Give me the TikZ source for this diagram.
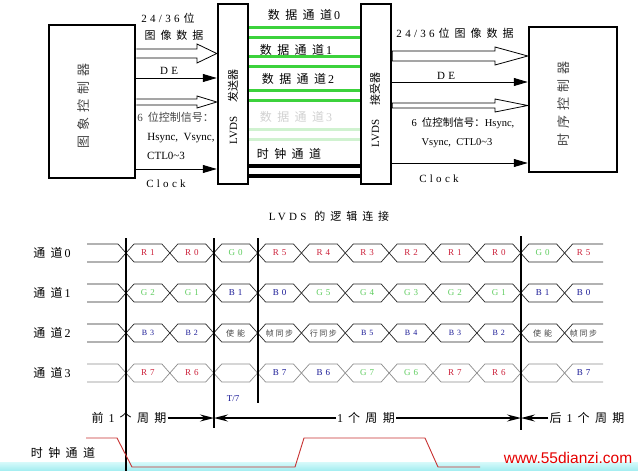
\documentclass[tikz,border=0pt]{standalone}
\usepackage{fontspec}
\setmainfont{Liberation Serif}
\newfontfamily\cjk{Noto Sans CJK SC}
\newfontfamily\cjks{Noto Sans CJK SC}[LetterSpace=45]
\newfontfamily\cjkm{Noto Sans CJK SC}[LetterSpace=40]
\newfontfamily\cjkt{Noto Sans CJK SC}[LetterSpace=20]
\newfontfamily\lss{Liberation Serif}[LetterSpace=30]
\newfontfamily\wmfont{Liberation Sans}
\usetikzlibrary{arrows.meta}
\definecolor{grn}{RGB}{60,210,60}
\definecolor{lgrn}{RGB}{208,242,208}
\definecolor{rd}{RGB}{205,35,60}
\definecolor{gn}{RGB}{95,205,95}
\definecolor{bl}{RGB}{25,25,150}
\definecolor{tg}{RGB}{70,70,70}
\definecolor{clk}{RGB}{200,50,50}
\definecolor{cyanA}{RGB}{215,250,250}
\definecolor{cyanB}{RGB}{160,236,240}
\newcommand\sig[2]{#1\hspace{3pt}#2}
\newcommand\zh[1]{{\cjk #1}}
\begin{document}
\begin{tikzpicture}[x=1pt,y=-1pt,
  box/.style={draw, line width=2.5pt, inner sep=0pt},
  sarr/.style={line width=0.9pt, -{Triangle[length=14pt,width=8pt]}},
  harr/.style={fill=white, line width=0.8pt},
  gline/.style={line width=3pt, color=grn},
  lgline/.style={line width=3pt, color=lgrn},
  kline/.style={line width=3.5pt, color=black},
  t12/.style={font=\fontsize{12}{14}\selectfont, inner sep=1pt},
  t11/.style={font=\fontsize{11}{13}\selectfont, inner sep=1pt},
  t10/.style={font=\fontsize{10.5}{12}\selectfont, inner sep=1pt},
  lab/.style={font=\fontsize{9}{10}\selectfont, inner sep=0pt},
  sigline/.style={line width=0.7pt},
  vline/.style={line width=1.6pt},
  parr/.style={line width=1.5pt, -{Stealth[length=14pt,width=7pt,inset=5pt]}}
]
\useasboundingbox (0,0) rectangle (638,471);
\fill[white] (0,0) rectangle (638,471);
\shade[top color=cyanA, bottom color=cyanB] (0,462) rectangle (638,471);

% ---------- top: block diagram ----------
\node[t11, text=tg] (lctl) at (175.5,117) {6\hspace{5pt}\zh{位控制信号：}};
\node[box, minimum width=86pt, minimum height=153pt] (ic) at (92,101.5) {};
\node[box, minimum width=30pt, minimum height=180pt] (tx) at (233,94) {};
\node[box, minimum width=30pt, minimum height=180pt] (rx) at (376,94) {};
\node[box, minimum width=88pt, minimum height=145pt] (rc) at (573,99.5) {};

\node[rotate=90, text=tg, font=\fontsize{13}{13}\selectfont\cjkm] (icl) at (84,106) {图象控制器};
\node[rotate=90, text=tg, font=\fontsize{13}{13}\selectfont\cjkm] (rcl) at (564,104) {时序控制器};
\node[rotate=90, font=\fontsize{11}{11}\selectfont] (txl) at (233,107) {LVDS\hspace{14pt}{\cjk 发送器}};
\node[rotate=90, font=\fontsize{11}{11}\selectfont] (rxl) at (375,110) {LVDS\hspace{14pt}{\cjk 接受器}};

% left side signals
\node[t11] (l24) at (168,18) {{\lss 24/36}\hspace{4pt}\zh{位}};
\node[t11] (limg) at (174,35) {\cjks 图像数据};
\filldraw[harr] (ic.east |- 0,49) -- (197,49) -- (197,44) -- (tx.west |- 0,53.5) -- (197,63) -- (197,58) -- (ic.east |- 0,58);
\node[t11] (lde) at (169,71) {\lss DE};
\draw[sarr] (ic.east |- 0,78) -- (tx.west |- 0,78);
\filldraw[harr] (ic.east |- 0,99) -- (197,99) -- (197,96) -- (tx.west |- 0,102) -- (197,108) -- (197,105) -- (ic.east |- 0,105);
\node[t11] (lhs) at (181,138) {Hsync,\ \ Vsync,};
\node[t11, anchor=west] (lctl3) at (146,156) {CTL0\textasciitilde3};
\draw[sarr] (ic.east |- 0,169) -- (tx.west |- 0,169);
\node[t11] (lclk) at (166,184) {\lss Clock};

% channels between transmitter and receiver
\node[t12] (c0) at (304,15) {{\cjks 数据通道}\hspace{2pt}0};
\draw[gline] (tx.east |- 0,27) -- (rx.west |- 0,27);
\draw[gline] (tx.east |- 0,37) -- (rx.west |- 0,37);
\node[t12] (c1) at (296,50) {{\cjks 数据通道}\hspace{2pt}1};
\draw[gline] (tx.east |- 0,56) -- (rx.west |- 0,56);
\draw[gline] (tx.east |- 0,66) -- (rx.west |- 0,66);
\node[t12] (c2) at (298,79) {{\cjks 数据通道}\hspace{2pt}2};
\draw[gline] (tx.east |- 0,90) -- (rx.west |- 0,90);
\draw[gline] (tx.east |- 0,100) -- (rx.west |- 0,100);
\node[t12, text=black!18] (c3) at (296,117) {{\cjks 数据通道}\hspace{2pt}3};
\draw[lgline] (tx.east |- 0,129) -- (rx.west |- 0,129);
\draw[lgline] (tx.east |- 0,139) -- (rx.west |- 0,139);
\node[t12] (cc) at (289,154) {\cjks 时钟通道};
\draw[kline] (tx.east |- 0,166) -- (rx.west |- 0,166);
\draw[kline] (tx.east |- 0,176) -- (rx.west |- 0,176);

% right side signals
\node[t11] (r24) at (455,33) {{\lss 24/36}\hspace{4pt}{\cjks 位图像数据}};
\filldraw[harr] (rx.east |- 0,51) -- (495,51) -- (495,47) -- (rc.west |- 0,56) -- (495,65) -- (495,61) -- (rx.east |- 0,61) -- cycle;
\node[t11] (rde) at (446,76) {\lss DE};
\draw[sarr] (rx.east |- 0,82) -- (rc.west |- 0,82);
\filldraw[harr] (rx.east |- 0,103) -- (495,103) -- (495,99) -- (rc.west |- 0,105.5) -- (495,112) -- (495,108) -- (rx.east |- 0,108) -- cycle;
\node[t10] (rctl) at (463,123) {6\hspace{5pt}\zh{位控制信号：}Hsync,};
\node[t10] (rvs) at (457,143) {Vsync,\ \ CTL0\textasciitilde3};
\draw[sarr] (rx.east |- 0,163) -- (rc.west |- 0,163);
\node[t11] (rclk) at (439,179) {\lss Clock};

\node[t11] (title) at (329,216) {{\lss LVDS}\hspace{8pt}{\cjks 的逻辑连接}};

% ---------- bottom: timing ----------
\node[t12] (n0) at (52,253) {{\cjks 通道}\hspace{2pt}0};
\node[t12] (n1) at (52,293) {{\cjks 通道}\hspace{2pt}1};
\node[t12] (n2) at (52,333) {{\cjks 通道}\hspace{2pt}2};
\node[t12] (n3) at (52,373) {{\cjks 通道}\hspace{2pt}3};
\node[t12] (nc) at (63,453) {\cjks 时钟通道};

\foreach \yc/\col in {253/black!85,293/black!85,333/black!85,373/black!45}{
  \draw[sigline,\col] (87,\yc-9) -- (118,\yc-9) -- (126,\yc) -- (118,\yc+9) -- (87,\yc+9);
  \foreach \k in {0,...,9}{
    \pgfmathsetmacro\xa{126+\k*43.86}
    \pgfmathsetmacro\xb{126+(\k+1)*43.86}
    \draw[sigline,\col] (\xa,\yc) -- (\xa+8,\yc-9) -- (\xb-8,\yc-9) -- (\xb,\yc) -- (\xb-8,\yc+9) -- (\xa+8,\yc+9) -- cycle;
  }
  \draw[sigline,\col] (603,\yc-9) -- (572.6,\yc-9) -- (564.6,\yc) -- (572.6,\yc+9) -- (603,\yc+9);
}

\foreach \t/\cl [count=\k from 0] in {{\sig R1}/rd,{\sig R0}/rd,{\sig G0}/gn,{\sig R5}/rd,{\sig R4}/rd,{\sig R3}/rd,{\sig R2}/rd,{\sig R1}/rd,{\sig R0}/rd,{\sig G0}/gn,{\sig R5}/rd}
  \node[lab, text=\cl] (a\k) at ({126+(\k+0.5)*43.86-(\k==10)*3},253) {\t};
\foreach \t/\cl [count=\k from 0] in {{\sig G2}/gn,{\sig G1}/gn,{\sig B1}/bl,{\sig B0}/bl,{\sig G5}/gn,{\sig G4}/gn,{\sig G3}/gn,{\sig G2}/gn,{\sig G1}/gn,{\sig B1}/bl,{\sig B0}/bl}
  \node[lab, text=\cl] (b\k) at ({126+(\k+0.5)*43.86-(\k==10)*3},293) {\t};
\foreach \t/\cl [count=\k from 0] in {{\sig B3}/bl,{\sig B2}/bl,{\zh{使\hspace{3pt}能}}/tg,{{\cjkt 帧同步}}/tg,{{\cjkt 行同步}}/tg,{\sig B5}/bl,{\sig B4}/bl,{\sig B3}/bl,{\sig B2}/bl,{\zh{使\hspace{3pt}能}}/tg,{{\cjkt 帧同步}}/tg}
  \node[lab, text=\cl, font=\fontsize{8}{9}\selectfont] (c\k) at ({126+(\k+0.5)*43.86-(\k==10)*3},333) {\t};
\foreach \t/\cl [count=\k from 0] in {{\sig R7}/rd,{\sig R6}/rd,{}/rd,{\sig B7}/bl,{\sig B6}/bl,{\sig G7}/gn,{\sig G6}/gn,{\sig R7}/rd,{\sig R6}/rd,{}/rd,{\sig B7}/bl}
  \node[lab, text=\cl] (d\k) at ({126+(\k+0.5)*43.86-(\k==10)*3},373) {\t};

% vertical markers
\coordinate (va) at (126,238);
\coordinate (vb) at (214,238);
\coordinate (vc) at (258,238);
\coordinate (vd) at (521,236);
\draw[vline] (va) -- (va |- 0,471);
\draw[vline] (vb) -- (vb |- 0,428);
\draw[vline] (vc) -- (vc |- 0,403);
\draw[vline] (vd) -- (vd |- 0,430);

\node[lab, text=bl] (tseven) at (233,399) {T/7};

\node[t12] (pre) at (129,418) {{\cjk 前}\hspace{5pt}1\hspace{5pt}{\cjks 个周期}};
\node[t12] (one) at (366,418) {1\hspace{5pt}{\cjks 个周期}};
\node[t12] (post) at (587,418) {{\cjk 后}\hspace{5pt}1\hspace{5pt}{\cjks 个周期}};
\draw[parr] (pre.east) -- (pre.east -| vb);
\draw[parr] (one.west) -- (one.west -| vb);
\draw[parr] (one.east) -- (one.east -| vd);
\draw[parr] (post.west) -- (post.west -| vd);

% clock channel
\draw[clk, line width=0.9pt] (86,438) -- (117,438) -- (132,467) -- (295,467) -- (304,438) -- (425,438) -- (438,467) -- (480,467);

\node[text=red!90!black, font=\wmfont\fontsize{15.5}{16}\selectfont, inner sep=0pt] (wm) at (568,458) {www.55dianzi.com};
\end{tikzpicture}
\end{document}
